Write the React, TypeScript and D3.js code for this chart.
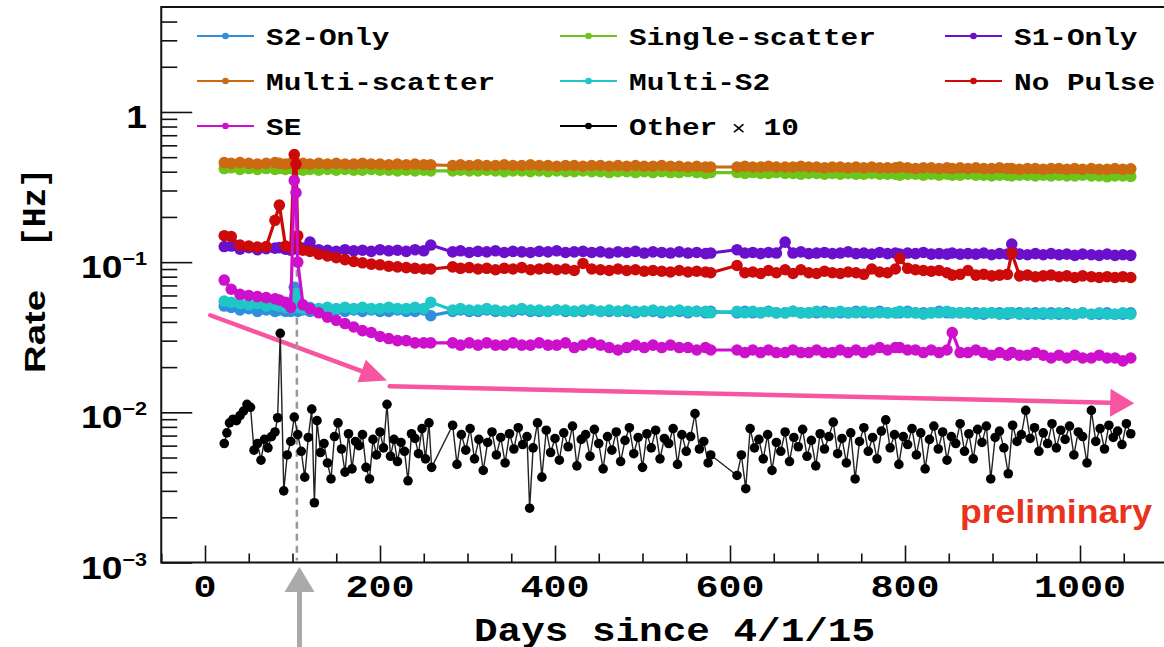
import React, { useEffect, useRef } from 'react'
import * as d3 from 'd3'

// days since 4/1/15 (same grid for the coloured categories)
const days = [
  22, 30, 40, 50, 60, 70, 80, 85, 92, 98,
  102, 104, 106, 112, 120, 130, 140, 150, 160, 170,
  180, 190, 200, 210, 220, 230, 240, 250, 258,
  283, 292, 302, 312, 322, 332, 342, 352, 362, 372,
  382, 392, 402, 412, 422, 432, 442, 452, 462, 472,
  482, 492, 502, 512, 522, 532, 542, 552, 562, 572, 578,
  608, 617, 626, 635, 644, 653, 663, 672, 681, 690,
  699, 708, 717, 726, 735, 744, 753, 762, 771, 780,
  789, 794, 803, 812, 821, 830, 839, 848, 854, 863,
  872, 881, 890, 899, 908, 917, 922, 931, 940, 949,
  958, 967, 976, 985, 994, 1003, 1013, 1022, 1031, 1040,
  1049, 1058,
]

const s2Only = [
  0.051, 0.05, 0.048, 0.049, 0.047, 0.048, 0.047, 0.048, 0.047, 0.047,
  0.068, 0.055, 0.047, 0.048, 0.047, 0.048, 0.047, 0.048, 0.047, 0.048,
  0.047, 0.048, 0.047, 0.047, 0.048, 0.047, 0.047, 0.048, 0.044,
  0.047, 0.048, 0.047, 0.047, 0.048, 0.047, 0.047, 0.047, 0.048, 0.047,
  0.047, 0.047, 0.048, 0.047, 0.047, 0.047, 0.048, 0.047, 0.047, 0.047,
  0.047, 0.046, 0.047, 0.047, 0.046, 0.047, 0.047, 0.046, 0.047, 0.046, 0.047,
  0.046, 0.047, 0.046, 0.046, 0.047, 0.046, 0.046, 0.047, 0.046, 0.046,
  0.046, 0.047, 0.046, 0.046, 0.046, 0.047, 0.046, 0.046, 0.047, 0.046,
  0.046, 0.046, 0.047, 0.046, 0.046, 0.046, 0.047, 0.046, 0.046, 0.046,
  0.046, 0.046, 0.045, 0.046, 0.046, 0.045, 0.046, 0.046, 0.045, 0.046,
  0.045, 0.046, 0.045, 0.046, 0.045, 0.046, 0.045, 0.045, 0.046, 0.045,
  0.045, 0.046,
]

const singleScatter = [
  0.42, 0.425, 0.415, 0.42, 0.415, 0.42, 0.415, 0.42, 0.415, 0.42,
  0.415, 0.42, 0.415, 0.41, 0.415, 0.41, 0.415, 0.41, 0.415, 0.41,
  0.41, 0.415, 0.41, 0.41, 0.405, 0.41, 0.405, 0.41, 0.405,
  0.405, 0.41, 0.405, 0.405, 0.41, 0.405, 0.4, 0.405, 0.405, 0.4,
  0.405, 0.4, 0.405, 0.4, 0.4, 0.405, 0.4, 0.4, 0.395, 0.4,
  0.4, 0.395, 0.4, 0.395, 0.4, 0.395, 0.395, 0.4, 0.395, 0.39, 0.395,
  0.395, 0.39, 0.395, 0.39, 0.39, 0.395, 0.39, 0.39, 0.385, 0.39,
  0.39, 0.385, 0.39, 0.385, 0.39, 0.385, 0.385, 0.39, 0.385, 0.385,
  0.385, 0.38, 0.385, 0.385, 0.38, 0.385, 0.38, 0.385, 0.38, 0.38,
  0.385, 0.38, 0.38, 0.375, 0.38, 0.38, 0.375, 0.38, 0.38, 0.375,
  0.38, 0.375, 0.38, 0.375, 0.375, 0.38, 0.375, 0.375, 0.37, 0.375,
  0.375, 0.372,
]

const s1Only = [
  0.127, 0.128, 0.122, 0.125, 0.121, 0.123, 0.124, 0.125, 0.122, 0.12,
  0.13, 0.125, 0.122, 0.124, 0.136, 0.121, 0.12, 0.118, 0.121, 0.119,
  0.12, 0.118, 0.121, 0.119, 0.12, 0.118, 0.121, 0.119, 0.13,
  0.117, 0.119, 0.116, 0.118, 0.117, 0.119, 0.116, 0.118, 0.117, 0.116,
  0.118, 0.117, 0.119, 0.116, 0.117, 0.118, 0.116, 0.117, 0.115, 0.117,
  0.116, 0.118, 0.115, 0.117, 0.116, 0.115, 0.117, 0.115, 0.116, 0.114, 0.115,
  0.121, 0.115, 0.116, 0.114, 0.116, 0.115, 0.136, 0.115, 0.117, 0.114,
  0.115, 0.116, 0.114, 0.115, 0.117, 0.114, 0.115, 0.113, 0.116, 0.114,
  0.115, 0.113, 0.115, 0.114, 0.116, 0.113, 0.114, 0.113, 0.115, 0.113,
  0.114, 0.113, 0.115, 0.112, 0.114, 0.113, 0.132, 0.113, 0.112, 0.114,
  0.112, 0.114, 0.112, 0.113, 0.111, 0.113, 0.112, 0.111, 0.113, 0.111,
  0.112, 0.111,
]

const multiScatter = [
  0.46, 0.455, 0.46, 0.455, 0.45, 0.455, 0.46, 0.455, 0.45, 0.455,
  0.45, 0.455, 0.45, 0.455, 0.45, 0.455, 0.45, 0.455, 0.45, 0.45,
  0.455, 0.45, 0.45, 0.445, 0.45, 0.445, 0.45, 0.445, 0.445,
  0.44, 0.445, 0.44, 0.445, 0.44, 0.44, 0.445, 0.44, 0.44, 0.445,
  0.44, 0.44, 0.435, 0.44, 0.44, 0.435, 0.44, 0.44, 0.435, 0.44,
  0.435, 0.44, 0.435, 0.435, 0.44, 0.435, 0.435, 0.43, 0.435, 0.43, 0.43,
  0.43, 0.435, 0.43, 0.43, 0.435, 0.43, 0.43, 0.43, 0.435, 0.43,
  0.43, 0.425, 0.43, 0.43, 0.425, 0.43, 0.425, 0.43, 0.425, 0.425,
  0.425, 0.43, 0.425, 0.42, 0.425, 0.425, 0.42, 0.425, 0.42, 0.425,
  0.42, 0.425, 0.42, 0.42, 0.425, 0.42, 0.42, 0.415, 0.42, 0.42,
  0.415, 0.42, 0.42, 0.415, 0.42, 0.415, 0.42, 0.415, 0.415, 0.42,
  0.415, 0.418,
]

const multiS2 = [
  0.055, 0.054, 0.053, 0.052, 0.053, 0.051, 0.052, 0.051, 0.05, 0.05,
  0.058, 0.062, 0.05, 0.049, 0.05, 0.049, 0.05, 0.049, 0.05, 0.049,
  0.05, 0.049, 0.049, 0.05, 0.049, 0.049, 0.05, 0.049, 0.054,
  0.048, 0.049, 0.048, 0.048, 0.049, 0.048, 0.047, 0.048, 0.049, 0.048,
  0.048, 0.047, 0.048, 0.048, 0.047, 0.048, 0.048, 0.047, 0.048, 0.047,
  0.048, 0.047, 0.047, 0.048, 0.047, 0.047, 0.048, 0.047, 0.047, 0.047, 0.046,
  0.047, 0.046, 0.047, 0.046, 0.047, 0.046, 0.046, 0.047, 0.046, 0.046,
  0.047, 0.046, 0.046, 0.047, 0.046, 0.046, 0.047, 0.046, 0.046, 0.046,
  0.046, 0.047, 0.046, 0.046, 0.045, 0.046, 0.046, 0.047, 0.046, 0.046,
  0.046, 0.045, 0.046, 0.046, 0.045, 0.046, 0.046, 0.045, 0.046, 0.045,
  0.046, 0.045, 0.046, 0.045, 0.045, 0.046, 0.045, 0.046, 0.045, 0.045,
  0.046, 0.045,
]

const noPulse = [
  0.15, 0.148, 0.13, 0.128, 0.126, 0.127, 0.19, 0.24, 0.128, 0.125,
  0.52, 0.45, 0.15, 0.12, 0.118, 0.113, 0.11, 0.107, 0.104, 0.101,
  0.099, 0.097, 0.096, 0.094, 0.093, 0.092, 0.091, 0.09, 0.09,
  0.093, 0.091, 0.092, 0.09, 0.091, 0.089, 0.091, 0.09, 0.092, 0.089,
  0.09, 0.091, 0.089, 0.09, 0.088, 0.098, 0.09, 0.089, 0.088, 0.09,
  0.088, 0.089, 0.087, 0.088, 0.087, 0.086, 0.088, 0.086, 0.087, 0.086, 0.085,
  0.095, 0.085, 0.086, 0.084, 0.088, 0.085, 0.089, 0.084, 0.089, 0.085,
  0.084, 0.087, 0.085, 0.084, 0.086, 0.085, 0.083, 0.09, 0.086, 0.085,
  0.09, 0.106, 0.091, 0.089, 0.088, 0.087, 0.088, 0.085, 0.082, 0.083,
  0.088, 0.082, 0.083, 0.081, 0.082, 0.083, 0.115, 0.081, 0.082, 0.08,
  0.081, 0.082, 0.08, 0.081, 0.079, 0.081, 0.08, 0.079, 0.08, 0.079,
  0.08, 0.079,
]

const se = [
  0.076, 0.066, 0.061, 0.06, 0.059, 0.058, 0.057, 0.056, 0.054, 0.05,
  0.35, 0.29, 0.1, 0.052, 0.049, 0.046, 0.043, 0.041, 0.039, 0.037,
  0.035, 0.034, 0.032, 0.031, 0.03, 0.03, 0.029, 0.029, 0.029,
  0.029, 0.028, 0.029, 0.028, 0.029, 0.028, 0.028, 0.029, 0.028, 0.028,
  0.029, 0.028, 0.028, 0.029, 0.027, 0.028, 0.029, 0.028, 0.027, 0.026,
  0.027, 0.028, 0.027, 0.028, 0.027, 0.028, 0.027, 0.027, 0.026, 0.027, 0.026,
  0.026, 0.025, 0.026, 0.025, 0.026, 0.025, 0.025, 0.026, 0.025, 0.025,
  0.026, 0.025, 0.025, 0.026, 0.025, 0.026, 0.025, 0.026, 0.027, 0.026,
  0.027, 0.027, 0.026, 0.026, 0.025, 0.026, 0.025, 0.026, 0.034, 0.025,
  0.025, 0.026, 0.025, 0.024, 0.025, 0.024, 0.025, 0.024, 0.024, 0.025,
  0.024, 0.023, 0.024, 0.023, 0.024, 0.023, 0.023, 0.024, 0.023, 0.023,
  0.022, 0.023,
]

// "Other" is sampled more densely than the rest
const otherDays = [
  22, 25, 28, 32, 36, 40, 44, 48, 52, 56,
  60, 64, 68, 72, 76, 80, 83, 86, 90, 94,
  98, 102, 106, 110, 114, 118, 122, 125, 128, 132,
  136, 140, 144, 148, 152, 156, 160, 164, 168, 172,
  176, 180, 184, 188, 192, 196, 200, 204, 208, 212,
  216, 220, 224, 228, 232, 236, 240, 244, 248, 252,
  256, 259,
  283, 288, 293, 298, 303, 308, 313, 318, 323, 328,
  333, 338, 343, 348, 353, 358, 363, 368, 371, 375,
  380, 385, 390, 395, 400, 405, 410, 415, 420, 425,
  430, 435, 440, 445, 450, 455, 460, 465, 470, 475,
  480, 485, 490, 495, 500, 505, 510, 515, 520, 525,
  530, 535, 540, 545, 550, 555, 560, 565, 570, 575, 578,
  608, 613, 618, 623, 628, 633, 638, 643, 648, 653,
  658, 663, 668, 673, 678, 683, 688, 693, 698, 703,
  708, 713, 718, 723, 728, 733, 738, 743, 748, 753,
  758, 763, 768, 773, 778, 783, 788, 793, 798, 803,
  808, 813, 818, 823, 828, 833, 838, 843, 848, 853,
  858, 863, 868, 873, 878, 883, 888, 893, 898, 903,
  908, 913, 918, 923, 928, 933, 938, 943, 948, 953,
  958, 963, 968, 973, 978, 983, 988, 993, 998, 1003,
  1008, 1013, 1018, 1023, 1028, 1033, 1038, 1043, 1048, 1053,
  1058,
]

// already multiplied by 10 as plotted
const otherTimes10 = [
  0.0062, 0.0073, 0.0085, 0.009, 0.0088, 0.0095, 0.0102, 0.0113, 0.0108, 0.0056,
  0.0062, 0.0048, 0.0066, 0.0058, 0.0069, 0.0074, 0.0092, 0.0336, 0.003, 0.0052,
  0.0064, 0.0093, 0.0071, 0.0055, 0.0037, 0.0068, 0.0105, 0.0025, 0.0088, 0.0054,
  0.0062, 0.0046, 0.0036, 0.0069, 0.0085, 0.0057, 0.004, 0.0072, 0.0042, 0.0064,
  0.006, 0.0071, 0.0043, 0.0036, 0.0066, 0.0052, 0.0074, 0.0058, 0.0113, 0.0051,
  0.0066, 0.0047, 0.0063, 0.0055, 0.0035, 0.0072, 0.0067, 0.0053, 0.0078, 0.0049,
  0.0085, 0.0043,
  0.0082, 0.0045, 0.0071, 0.0056, 0.0078, 0.0049, 0.0066, 0.0041, 0.0063, 0.0074,
  0.0052, 0.0068, 0.0046, 0.0072, 0.0057, 0.0079, 0.0061, 0.0069, 0.0023, 0.0058,
  0.0085, 0.0037, 0.0076, 0.0054, 0.0067, 0.0048, 0.0073, 0.0059, 0.0081, 0.0044,
  0.0066, 0.0071, 0.0051, 0.0077, 0.0062, 0.0042, 0.0069, 0.0056, 0.0074, 0.0047,
  0.0065, 0.0079, 0.0053, 0.0068, 0.0043, 0.0072, 0.0058, 0.0076, 0.0049, 0.0067,
  0.0062, 0.0078, 0.0045, 0.0071, 0.0055, 0.0069, 0.0098, 0.0057, 0.0064, 0.0046, 0.0052,
  0.0038, 0.0052, 0.0031, 0.0078, 0.0058, 0.0066, 0.0049, 0.0071, 0.0041, 0.0063,
  0.0055, 0.0074, 0.0047, 0.0068, 0.0059, 0.0077, 0.0051, 0.0065, 0.0044, 0.0072,
  0.0057, 0.0069, 0.0086, 0.0053, 0.0067, 0.0046, 0.0073, 0.0036, 0.0064, 0.0079,
  0.0055, 0.0068, 0.0049, 0.0075, 0.0089, 0.0058, 0.0071, 0.0045, 0.0069, 0.0061,
  0.0078, 0.0052, 0.0073, 0.0042, 0.0066, 0.0081, 0.0057, 0.0074, 0.0048, 0.0069,
  0.0062, 0.0084, 0.0055, 0.0072, 0.0049, 0.0077, 0.0063, 0.0081, 0.0036, 0.0068,
  0.0075, 0.0058, 0.0039, 0.0082, 0.0064, 0.0071, 0.0103, 0.0067, 0.0079, 0.0055,
  0.0073, 0.0062, 0.0084, 0.0058, 0.0076, 0.0066, 0.0081, 0.0052, 0.0074, 0.0069,
  0.0046, 0.0103, 0.0064, 0.0078, 0.0057, 0.0082, 0.0068, 0.0075, 0.0061, 0.0084,
  0.0072,
]

const seriesNames = ['S2-Only', 'Single-scatter', 'S1-Only', 'Multi-scatter', 'Multi-S2', 'No Pulse', 'SE', 'Other']
const seriesValues = [s2Only, singleScatter, s1Only, multiScatter, multiS2, noPulse, se, otherTimes10]
const seriesDays = [days, days, days, days, days, days, days, otherDays]
const seriesColors = ['#2f8fdc', '#6cc51a', '#6a10cc', '#cc6a12', '#1ec6c8', '#cc0a0a', '#cc10cc', '#000000']

const xMajorTicks = [0, 200, 400, 600, 800, 1000]
const xMinorTicks = [-50, 50, 100, 150, 250, 300, 350, 450, 500, 550, 650, 700, 750, 850, 900, 950, 1050]
const yDecades = [-3, -2, -1, 0]

// annotations, in data units
const trendArrows = [
  { from: [6, 0.0443], to: [208, 0.0163] },
  { from: [211, 0.0149], to: [1062, 0.0115] },
]
const markedDay = 105

export default function App() {
  const ref = useRef<SVGSVGElement>(null)

  useEffect(() => {
    const width = 1164
    const height = 647
    const svg = d3.select(ref.current)
    svg.selectAll('*').remove()

    // scales
    const x = d3.scaleLinear().domain([-50, 1100]).range([161.25, 1167.5])
    const y = d3.scaleLog().domain([1e-3, 5]).range([562.5, 7])

    const mono = '"Liberation Mono", "DejaVu Sans Mono", monospace'
    const sans = '"Liberation Sans", Arial, sans-serif'
    const sx = 1.2

    // frame
    svg.append('rect')
      .attr('x', x(-50)).attr('y', y(5))
      .attr('width', x(1100) - x(-50)).attr('height', y(1e-3) - y(5))
      .attr('fill', 'none').attr('stroke', '#111').attr('stroke-width', 2)

    // x ticks (inside)
    const xTickG = svg.append('g').attr('transform', `translate(0, ${y(1e-3)})`)
    xTickG.append('g').call(d3.axisBottom(x).tickValues(xMajorTicks).tickSize(-17).tickFormat(() => ''))
    xTickG.append('g').call(d3.axisBottom(x).tickValues(xMinorTicks).tickSize(-9).tickFormat(() => ''))
    xTickG.selectAll('.domain').remove()
    xTickG.selectAll('line').attr('stroke', '#111').attr('stroke-width', 1.6)

    // y ticks (inside)
    const yMinor: number[] = []
    yDecades.forEach(d => {
      for (let k = 2; k <= 9; k++) {
        const v = k * Math.pow(10, d)
        if (v < 5) yMinor.push(v)
      }
    })
    const yTickG = svg.append('g').attr('transform', `translate(${x(-50)}, 0)`)
    yTickG.append('g').call(d3.axisLeft(y).tickValues(yDecades.map(d => Math.pow(10, d))).tickSize(-31).tickFormat(() => ''))
    yTickG.append('g').call(d3.axisLeft(y).tickValues(yMinor).tickSize(-16).tickFormat(() => ''))
    yTickG.selectAll('.domain').remove()
    yTickG.selectAll('line').attr('stroke', '#111').attr('stroke-width', 1.6)

    // x tick labels
    xMajorTicks.forEach(t => {
      svg.append('text')
        .attr('transform', `translate(${x(t)}, 597) scale(${sx}, 1)`)
        .attr('text-anchor', 'middle')
        .style('font-family', mono).style('font-weight', 'bold').style('font-size', '32px')
        .text(t)
    })

    // y tick labels
    yDecades.forEach(d => {
      const label = svg.append('text')
        .attr('transform', `translate(147, ${y(Math.pow(10, d)) + 16}) scale(${sx}, 1)`)
        .attr('text-anchor', 'end')
        .style('font-family', sans).style('font-weight', 'bold').style('font-size', '31px')
      if (d === 0) {
        label.text('1')
      } else {
        label.append('tspan').text('10')
        label.append('tspan').attr('dy', -13).style('font-size', '18px').text(`\u2212${-d}`)
      }
    })

    // axis titles
    svg.append('text')
      .attr('x', 474).attr('y', 641)
      .attr('textLength', 401).attr('lengthAdjust', 'spacingAndGlyphs')
      .style('font-family', mono).style('font-weight', 'bold').style('font-size', '33px')
      .text('Days since 4/1/15')

    svg.append('text')
      .attr('transform', 'translate(45, 373) rotate(-90)')
      .attr('textLength', 83).attr('lengthAdjust', 'spacingAndGlyphs')
      .style('font-family', sans).style('font-weight', 'bold').style('font-size', '29px')
      .text('Rate')
    svg.append('text')
      .attr('transform', 'translate(45, 247) rotate(-90)')
      .attr('textLength', 79).attr('lengthAdjust', 'spacingAndGlyphs')
      .style('font-family', mono).style('font-weight', 'bold').style('font-size', '33px')
      .text('[Hz]')

    // trend arrows (pink)
    const pink = '#f7559f'
    trendArrows.forEach((a, i) => {
      const x0 = x(a.from[0]), y0 = y(a.from[1])
      const x1 = x(a.to[0]), y1 = y(a.to[1])
      const ang = Math.atan2(y1 - y0, x1 - x0)
      const len = i === 0 ? 27 : 24
      const hw = i === 0 ? 12 : 14
      const bx = x1 - len * Math.cos(ang), by = y1 - len * Math.sin(ang)
      svg.append('line')
        .attr('x1', x0).attr('y1', y0).attr('x2', bx).attr('y2', by)
        .attr('stroke', pink).attr('stroke-width', 4.5).attr('stroke-linecap', 'round')
      const px = -Math.sin(ang), py = Math.cos(ang)
      svg.append('path')
        .attr('d', `M${x1},${y1}L${bx + px * hw},${by + py * hw}L${bx - px * hw},${by - py * hw}Z`)
        .attr('fill', pink)
    })

    // marked day: dashed line + grey arrow under the axis
    svg.append('line')
      .attr('x1', x(markedDay)).attr('x2', x(markedDay))
      .attr('y1', y(0.56)).attr('y2', y(1e-3) - 2)
      .attr('stroke', '#999').attr('stroke-width', 2.5).attr('stroke-dasharray', '7,5')
    const ax = x(markedDay + 3)
    svg.append('rect')
      .attr('x', ax - 2.5).attr('y', 588).attr('width', 5).attr('height', height - 588)
      .attr('fill', '#aaa')
    svg.append('path')
      .attr('d', `M${ax},567L${ax + 15},592L${ax - 15},592Z`)
      .attr('fill', '#aaa')

    // series
    const line = d3.line<[number, number]>()
      .x(d => x(d[0]))
      .y(d => y(d[1]))

    seriesValues.forEach((vals, i) => {
      const dd = seriesDays[i]
      if (vals.length !== dd.length) console.warn(seriesNames[i], vals.length, dd.length)
      const pts: [number, number][] = dd.slice(0, vals.length).map((d, j) => [d, vals[j]])
      const isOther = i === 7
      const g = svg.append('g')
      g.append('path')
        .datum(pts)
        .attr('fill', 'none')
        .attr('stroke', isOther ? '#222' : seriesColors[i])
        .attr('stroke-width', isOther ? 1.4 : 3.2)
        .attr('stroke-linejoin', 'round')
        .attr('d', line)
      g.selectAll('circle')
        .data(pts)
        .enter()
        .append('circle')
        .attr('cx', d => x(d[0]))
        .attr('cy', d => y(d[1]))
        .attr('r', isOther ? 4.8 : 5.8)
        .attr('fill', seriesColors[i])
    })

    // legend, 3 columns
    const colX = [197, 560, 945]
    const rowY = [36, 81, 126]
    seriesNames.forEach((name, i) => {
      const cx = colX[i % 3]
      const cy = rowY[Math.floor(i / 3)]
      const g = svg.append('g')
      g.append('line')
        .attr('x1', cx).attr('x2', cx + 57).attr('y1', cy).attr('y2', cy)
        .attr('stroke', seriesColors[i]).attr('stroke-width', 2)
      g.append('circle')
        .attr('cx', cx + 28.5).attr('cy', cy).attr('r', 3.3)
        .attr('fill', seriesColors[i])
      const t = g.append('text')
        .attr('transform', `translate(${cx + 69}, ${cy + 9}) scale(${sx}, 1)`)
        .style('font-family', mono).style('font-weight', 'bold').style('font-size', '24.5px')
        .text(name)
      if (name === 'Other') {
        t.append('tspan').style('font-weight', 'normal').style('font-size', '20px').text(' \u00d7')
        t.append('tspan').text(' 10')
      }
    })

    // watermark
    svg.append('text')
      .attr('x', 960).attr('y', 523)
      .attr('textLength', 192).attr('lengthAdjust', 'spacingAndGlyphs')
      .style('font-family', sans).style('font-weight', 'bold').style('font-size', '33px')
      .attr('fill', '#e8341c')
      .text('preliminary')

    svg.attr('width', width).attr('height', height)
  }, [])

  return (
    <div>
      <svg
        ref={ref}
        width={1164}
        height={647}
        style={{ position: 'absolute', left: 0, top: 0, background: '#fff' }}
      />
    </div>
  )
}
